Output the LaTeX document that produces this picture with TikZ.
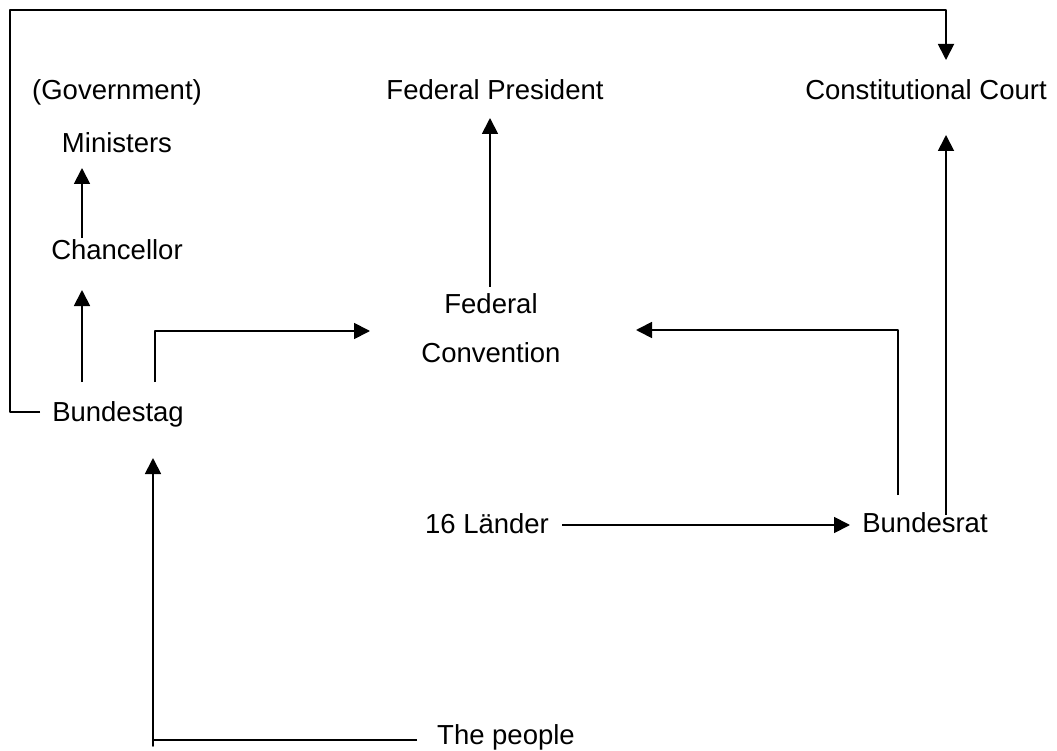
\documentclass[tikz,border=0pt]{standalone}
\usepackage{fontspec}
\setmainfont{Liberation Sans}
\usetikzlibrary{arrows.meta}

\tikzset{
    lbl/.style={inner sep=0pt, text height=19pt, text depth=5pt,
        font=\fontsize{27.5}{33}\selectfont},
    arr/.style={line width=1.8pt, line join=round,
        -{Triangle[length=16pt,width=16pt]}}
}

\begin{document}
\begin{tikzpicture}[x=1pt,y=-1pt]
    \useasboundingbox (0,0) rectangle (1057,751);

    % Government side
    \node[lbl] (gov) at (117,93) {(Government)};
    \node[lbl] (min) at (117,146) {Ministers};
    \node[lbl] (chan) at (117,253) {Chancellor};
    \node[lbl] (bt) at (118,414) {Bundestag};

    % Middle column
    \node[lbl] (pres) at (495,93) {Federal President};
    \node[lbl] (fed) at (491,306) {Federal};
    \node[lbl] (conv) at (491,355) {Convention};
    \node[lbl] (laender) at (487,526) {16 Länder};
    \node[lbl] (people) at (506,737) {The people};

    % Right column
    \node[lbl] (court) at (926,93) {Constitutional Court};
    \node[lbl] (brat) at (925,525) {Bundesrat};

    \coordinate (frame) at (10,10);

    % Connections
    \draw[arr] ([shift={(-35,-15)}]chan.center) -- ([shift={(-35,22)}]min.center);
    \draw[arr] ([shift={(-36,-32)}]bt.center) -- ([shift={(-35,37)}]chan.center);
    \draw[arr] ([shift={(37,-32)}]bt.center) |- ([shift={(-121,-24)}]conv.center);
    \draw[arr] ([shift={(-1,-19)}]fed.center) -- ([shift={(-5,25)}]pres.center);
    \draw[arr] ([shift={(-27,-30)}]brat.center) |- ([shift={(145,-25)}]conv.center);
    \draw[arr] ([shift={(21,-10)}]brat.center) -- ([shift={(20,42)}]court.center);
    \draw[arr] ([shift={(75,-1)}]laender.center) -- ([shift={(-75,0)}]brat.center);
    \draw[arr] ([shift={(-89,3)}]people.center) -| ([shift={(35,332)}]bt.center)
        -- ([shift={(35,44)}]bt.center);
    \draw[arr] ([shift={(-78,-2)}]bt.center) -| (frame) -| ([shift={(20,-33)}]court.center);
\end{tikzpicture}
\end{document}
